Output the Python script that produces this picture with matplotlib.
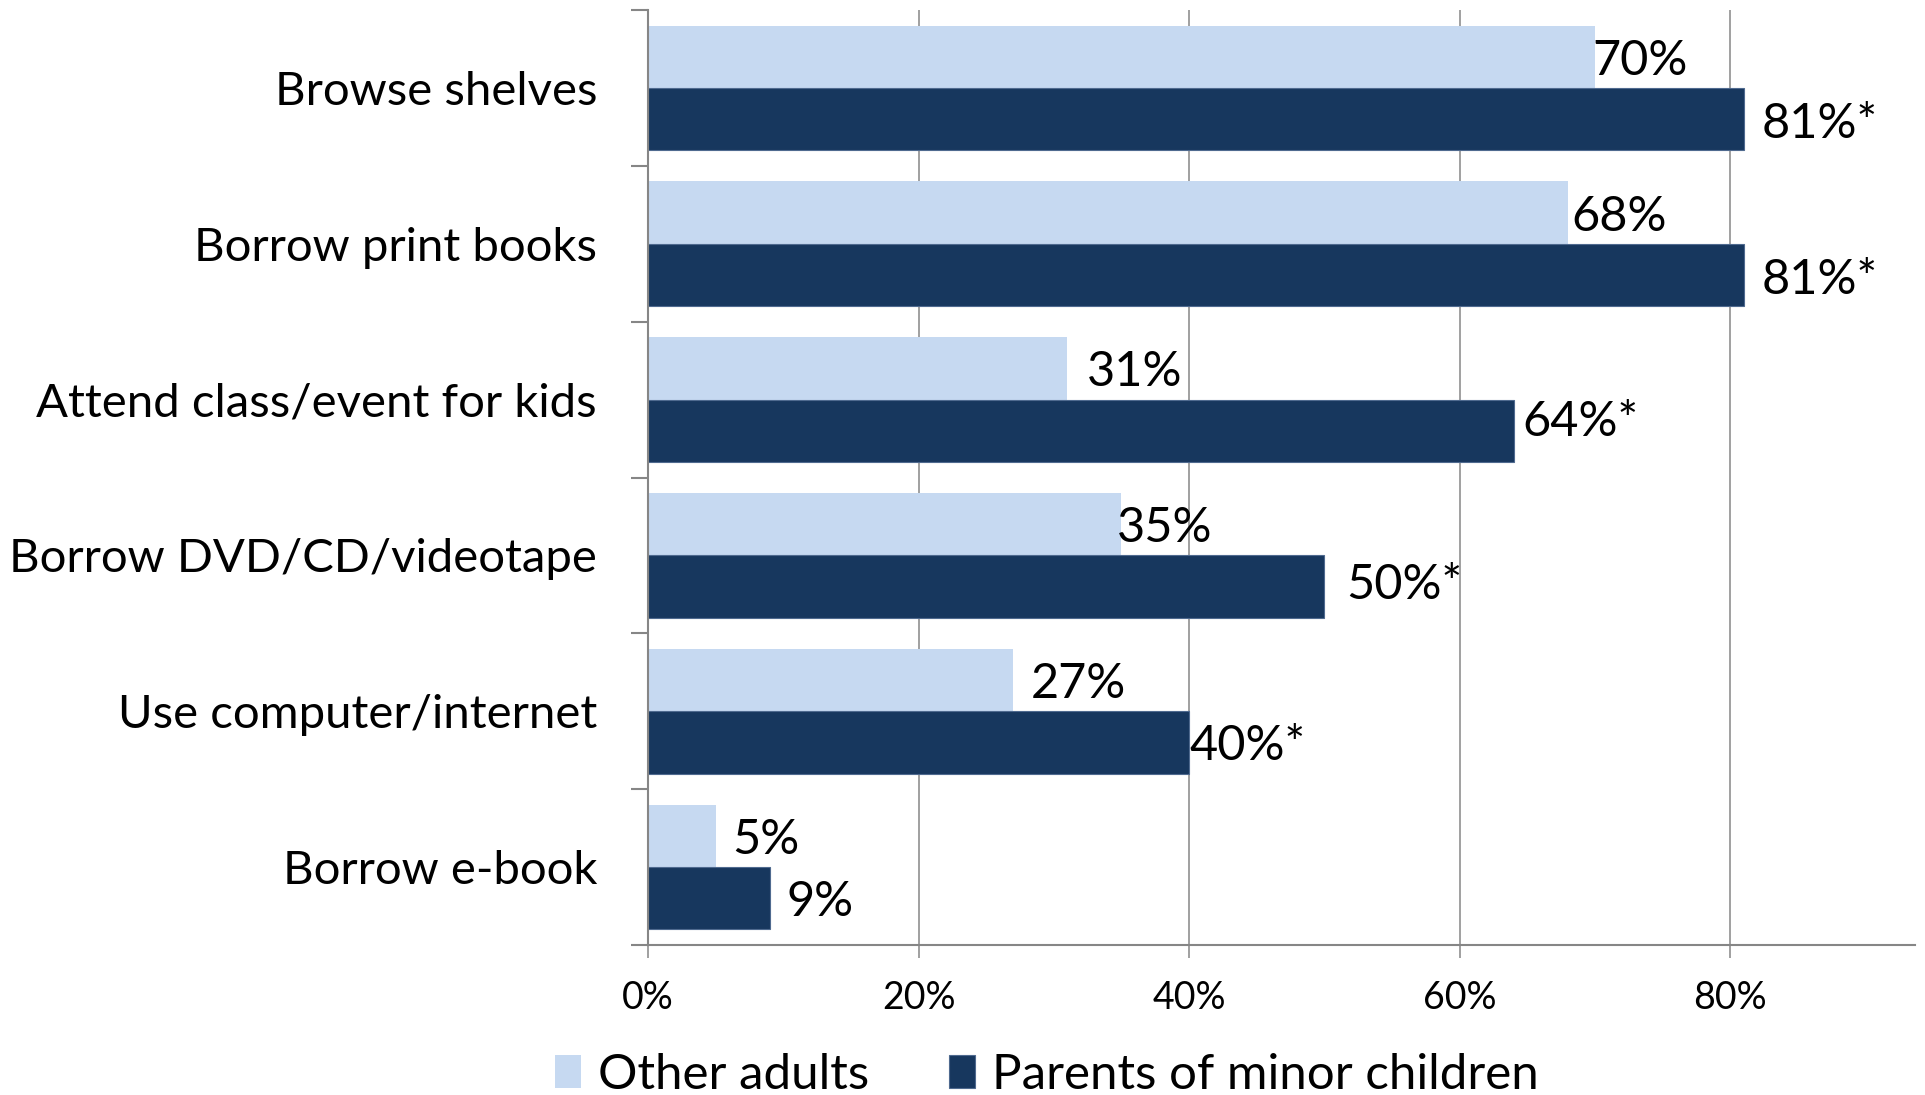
import matplotlib
matplotlib.use('Agg')
import matplotlib.pyplot as plt
import numpy as np

categories = ['Browse shelves', 'Borrow print books', 'Attend class/event for kids',
              'Borrow DVD/CD/videotape', 'Use computer/internet', 'Borrow e-book']
series_names = ['Other adults', 'Parents of minor children']
other_adults = [70, 68, 31, 35, 27, 5]
parents = [81, 81, 64, 50, 40, 9]
other_labels = ['70%', '68%', '31%', '35%', '27%', '5%']
parent_labels = ['81%*', '81%*', '64%*', '50%*', '40%*', '9%']
x_ticks = [0, 20, 40, 60, 80]
x_tick_labels = ['0%', '20%', '40%', '60%', '80%']

# hand-placed label nudges, in points (x from bar end, y up)
other_dx = [-2, 3, 14, -3, 13, 12]
other_dy = [0, 0, 0, 0, 0, 0]
parent_dx = [13, 13, 6, 16, 0, 12]
parent_dy = [-1, -1, 9, 4, 0, 0]

plt.rcParams['font.family'] = ['Lato', 'DejaVu Sans']

light = '#C6D9F1'
dark = '#17375E'
grey = '#868686'

fig = plt.figure(figsize=(19.25, 10.95), dpi=100)
ax = fig.add_axes([648/1925, 1 - 945/1095, (1915 - 648)/1925, (945 - 10)/1095])

y = np.arange(len(categories))
b1 = ax.barh(y - 0.2, other_adults, height=0.4, color=light, edgecolor='none',
             label=series_names[0])
b2 = ax.barh(y + 0.2, parents, height=0.4, color=dark, edgecolor='#4F6A8F',
             linewidth=0.8, label=series_names[1])

for i in range(len(categories)):
    ax.annotate(other_labels[i], (other_adults[i], y[i] - 0.2),
                xytext=(other_dx[i], other_dy[i]), textcoords='offset points',
                ha='left', va='center_baseline', fontsize=35, color='black')
    ax.annotate(parent_labels[i], (parents[i], y[i] + 0.2),
                xytext=(parent_dx[i], parent_dy[i]), textcoords='offset points',
                ha='left', va='center_baseline', fontsize=35, color='black')

ax.set_xlim(0, (1915 - 648) / 13.525)
ax.set_ylim(len(categories) - 0.5, -0.5)

ax.set_xticks(x_ticks)
ax.set_xticklabels(x_tick_labels)
ax.tick_params(axis='x', direction='out', length=9.4, width=1.1, color=grey,
               pad=16, labelsize=27)

ax.set_yticks(np.arange(-0.5, len(categories), 1))
ax.set_yticklabels([])
ax.set_yticks(y, minor=True)
ax.set_yticklabels(categories, minor=True)
ax.tick_params(axis='y', which='major', direction='out', length=12.2, width=1.5, color=grey)
ax.tick_params(axis='y', which='minor', length=0, pad=36.7, labelsize=34)

ax.xaxis.grid(True, color=grey, linewidth=1.1)
ax.set_axisbelow(True)

for s in ['top', 'right']:
    ax.spines[s].set_visible(False)
for s in ['left', 'bottom']:
    ax.spines[s].set_color(grey)
    ax.spines[s].set_linewidth(1.5)

fig.legend([b1, b2], series_names, loc='center left',
           bbox_to_anchor=(555/1925, 1 - 1075/1095), ncol=2, frameon=False,
           fontsize=35.5, handlelength=0.53, handleheight=0.65, handletextpad=0.345,
           columnspacing=1.62, borderpad=0, borderaxespad=0)

fig.savefig('out.png', dpi=100)
plt.close('all')
